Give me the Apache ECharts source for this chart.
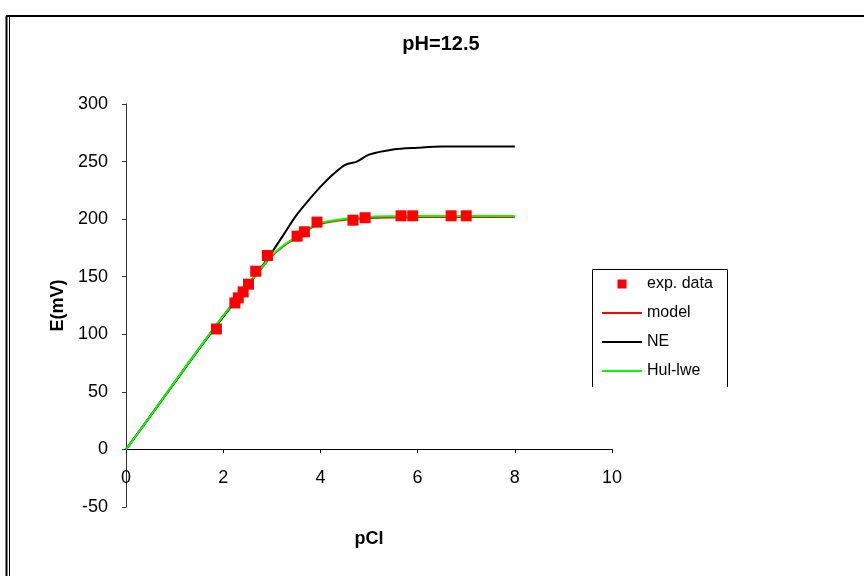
<!DOCTYPE html>
<html>
<head>
<meta charset="utf-8">
<script src="https://cdn.jsdelivr.net/npm/echarts@6/dist/echarts.min.js"></script>
<style>
  html, body { margin: 0; padding: 0; background: #fff; }
  #main { width: 864px; height: 576px; }
</style>
</head>
<body>
<div id="main"></div>
<script>
const FONT = "Liberation Sans, Arial, sans-serif";

// experimental points (pCl, E)
const expX = [1.86, 2.24, 2.31, 2.41, 2.52, 2.67, 2.91, 3.52, 3.67, 3.93, 4.67, 4.92, 5.66, 5.90, 6.69, 7.00];
const expY = [104.6, 127.2, 131.6, 136.8, 143.5, 154.8, 168.4, 185.2, 189.0, 197.4, 199.1, 201.2, 202.9, 202.9, 202.9, 202.9];

// model and Hul-lwe curves
const modelX = [0, 0.5, 1, 1.5, 2, 2.5, 2.8, 3, 3.25, 3.5, 3.75, 4, 4.5, 5, 5.5, 6, 7, 8];
const modelY = [0, 29, 58.5, 87.5, 116, 142, 158, 168, 177, 184, 191, 196, 199.5, 201, 201.5, 201.8, 201.8, 201.8];
const hulY   = [0, 29, 58.5, 87.5, 116, 142, 158.5, 168.5, 177.5, 184.5, 191.5, 196.8, 200.3, 202, 202.5, 202.8, 202.8, 202.8];

// Nernst curve
const neX = [0, 0.5, 1, 1.5, 2, 2.5, 2.8, 3, 3.25, 3.5, 3.75, 4, 4.25, 4.5, 4.75, 5, 5.5, 6, 6.5, 7, 7.5, 8];
const neY = [0, 29, 58, 87, 115, 142, 159, 171, 187, 203, 216, 228, 238.5, 247, 250, 256, 260.5, 262, 263, 263, 263, 263];

const zip = (xs, ys) => xs.map((x, i) => [x, ys[i]]);

const lineIcon = "path://M0,0L40,0L40,2L0,2Z";

var myChart = echarts.init(document.getElementById("main"));

const option = {
  backgroundColor: "#fff",
  animation: false,
  textStyle: { fontFamily: FONT },
  title: {
    text: "pH=12.5",
    left: 436,
    top: 29,
    textAlign: "center",
    textStyle: { fontFamily: FONT, fontSize: 20, fontWeight: "bold", color: "#000" }
  },
  grid: { left: 126, right: 252, top: 104, bottom: 69, outerBoundsMode: "none", containLabel: false },
  legend: {
    orient: "vertical",
    left: 597,
    top: 271,
    itemWidth: 40,
    itemHeight: 9,
    itemGap: 13,
    textStyle: { fontFamily: FONT, fontSize: 16, color: "#000" },
    data: [
      { name: "exp. data", icon: "path://M0,0L1,0L1,1L0,1Z" },
      { name: "model", icon: lineIcon },
      { name: "NE", icon: lineIcon },
      { name: "Hul-lwe", icon: lineIcon }
    ]
  },
  xAxis: {
    type: "value",
    min: 0,
    max: 10,
    interval: 2,
    // the axis sits on E = 0 (58 px above the grid bottom)
    offset: -58,
    name: "pCl",
    nameLocation: "middle",
    nameGap: 81,
    nameMoveOverlap: false,
    nameTextStyle: { fontFamily: FONT, fontSize: 18, fontWeight: "bold", color: "#000" },
    axisLine: { onZero: false, lineStyle: { color: "#000", width: 1 } },
    axisTick: { show: true, length: 4, lineStyle: { color: "#000" } },
    axisLabel: { margin: 20, fontFamily: FONT, fontSize: 18, color: "#000" },
    splitLine: { show: false }
  },
  yAxis: {
    type: "value",
    min: -50,
    max: 300,
    interval: 50,
    name: "E(mV)",
    nameLocation: "middle",
    nameGap: 59,
    nameMoveOverlap: false,
    nameTextStyle: { fontFamily: FONT, fontSize: 18, fontWeight: "bold", color: "#000" },
    axisLine: { show: true, onZero: false, lineStyle: { color: "#333", width: 1 } },
    axisTick: { show: true, length: 4, lineStyle: { color: "#333" } },
    axisLabel: { margin: 18, fontFamily: FONT, fontSize: 18, color: "#000" },
    splitLine: { show: false }
  },
  series: [
    {
      name: "model",
      type: "line",
      symbol: "none",
      smooth: 0.3,
      lineStyle: { color: "#ff0000", width: 2 },
      itemStyle: { color: "#ff0000" },
      data: zip(modelX, modelY),
      z: 2
    },
    {
      name: "NE",
      type: "line",
      symbol: "none",
      smooth: 0.3,
      lineStyle: { color: "#000", width: 2 },
      itemStyle: { color: "#000" },
      data: zip(neX, neY),
      z: 2
    },
    {
      name: "Hul-lwe",
      type: "line",
      symbol: "none",
      smooth: 0.3,
      lineStyle: { color: "#00ff00", width: 2 },
      itemStyle: { color: "#00ff00" },
      data: zip(modelX, hulY),
      z: 3
    },
    {
      name: "exp. data",
      type: "scatter",
      symbol: "rect",
      symbolSize: 11,
      itemStyle: { color: "#ff0000", opacity: 1 },
      data: zip(expX, expY),
      z: 5
    }
  ],
  graphic: [
    // outer frame (top and left edges)
    { type: "line", shape: { x1: 6, y1: 16, x2: 864, y2: 16 }, style: { stroke: "#000", lineWidth: 2 } },
    { type: "line", shape: { x1: 6.5, y1: 16, x2: 6.5, y2: 576 }, style: { stroke: "#000", lineWidth: 2 } },
    { type: "line", shape: { x1: 9.5, y1: 16, x2: 9.5, y2: 576 }, style: { stroke: "#000", lineWidth: 1 } },
    // legend box (open at the bottom)
    {
      type: "polyline",
      shape: { points: [[592.5, 387], [592.5, 269.5], [727.5, 269.5], [727.5, 387]] },
      style: { stroke: "#000", lineWidth: 1, fill: null }
    }
  ]
};

myChart.setOption(option);
window.onresize = function() {
  myChart.resize();
};
</script>
</body>
</html>
